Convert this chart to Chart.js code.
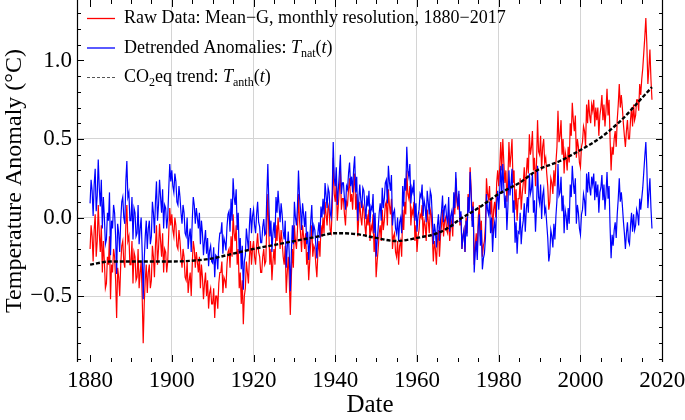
<!DOCTYPE html>
<html>
<head>
<meta charset="utf-8">
<script src="https://cdn.jsdelivr.net/npm/chart.js@4.4.1/dist/chart.umd.min.js"></script>
<style>
  html, body { margin: 0; padding: 0; background: #fff; }
  #wrap { width: 685px; height: 420px; }
</style>
</head>
<body>
<div id="wrap"><canvas id="chart"></canvas></div>
<script>
// quarterly readings, 1880.00 ... 2017.50
const firstYear = 1880
const stepYears = 0.25

// Raw Data: Mean-G (red), one row per decade
const rawData = [
	-0.20, -0.05, -0.12, -0.28, -0.08, 0.02, -0.25, -0.15, 0.08, -0.10, -0.22, -0.05, -0.35, -0.15, -0.28, -0.45, -0.42, -0.25, -0.30, -0.12, -0.52, -0.30, -0.35, -0.20, -0.25, -0.40, -0.64, -0.32, -0.38, -0.50, -0.30, -0.18, -0.15, -0.28, -0.32, -0.05, 0.08, -0.15, -0.12, -0.30,
	-0.30, -0.15, -0.42, -0.22, -0.25, -0.40, -0.38, -0.20, -0.45, -0.35, -0.28, -0.50, -0.80, -0.55, -0.40, -0.30, -0.48, -0.35, -0.30, -0.45, -0.40, -0.18, -0.25, -0.38, -0.18, -0.05, -0.30, -0.20, -0.04, -0.15, -0.25, -0.10, -0.35, -0.20, -0.22, -0.35, -0.28, -0.10, 0.06, -0.05,
	0.02, -0.08, -0.12, 0.00, -0.05, -0.18, -0.20, -0.08, -0.15, -0.25, -0.32, -0.20, -0.25, -0.38, -0.40, -0.28, -0.48, -0.40, -0.35, -0.50, -0.30, -0.15, -0.20, -0.32, -0.22, -0.28, -0.35, -0.25, -0.45, -0.30, -0.38, -0.52, -0.42, -0.35, -0.50, -0.40, -0.58, -0.48, -0.45, -0.55,
	-0.55, -0.45, -0.64, -0.50, -0.50, -0.58, -0.42, -0.35, -0.35, -0.28, -0.48, -0.38, -0.40, -0.45, -0.30, -0.22, -0.20, -0.32, -0.12, -0.25, 0.02, -0.10, -0.15, -0.05, -0.30, -0.20, -0.45, -0.35, -0.55, -0.40, -0.68, -0.50, -0.45, -0.28, -0.35, -0.42, -0.25, -0.15, -0.30, -0.20,
	-0.15, -0.25, -0.30, -0.18, -0.10, -0.22, -0.25, -0.35, -0.35, -0.25, -0.20, -0.30, -0.28, -0.05, 0.15, -0.10, -0.30, -0.20, -0.40, -0.28, -0.20, -0.30, -0.05, -0.15, 0.00, -0.10, -0.20, -0.08, -0.15, -0.25, -0.30, -0.18, -0.48, -0.35, -0.25, -0.40, -0.62, -0.38, -0.20, -0.32,
	-0.05, -0.15, -0.20, -0.08, 0.15, -0.02, -0.10, -0.22, -0.05, -0.12, -0.20, -0.10, -0.30, -0.22, -0.40, -0.28, -0.15, -0.05, -0.25, -0.18, -0.20, -0.30, -0.38, -0.22, -0.15, -0.25, -0.05, -0.12, 0.00, -0.10, 0.10, 0.02, -0.05, 0.08, 0.05, -0.08, -0.10, 0.05, 0.38, 0.15,
	0.10, 0.22, -0.02, 0.08, 0.18, 0.30, 0.05, 0.12, 0.12, 0.02, -0.05, 0.10, 0.08, 0.18, 0.25, 0.10, 0.15, 0.05, 0.20, 0.28, 0.05, 0.15, -0.12, 0.00, 0.10, 0.00, -0.05, 0.08, 0.05, -0.05, -0.12, 0.02, -0.05, 0.05, -0.15, -0.05, -0.08, 0.02, -0.22, -0.10,
	-0.38, -0.28, -0.20, -0.10, -0.05, -0.15, 0.05, -0.08, -0.02, 0.08, 0.10, -0.05, 0.18, 0.08, 0.02, 0.12, -0.20, -0.12, -0.10, -0.22, -0.25, -0.15, -0.30, -0.18, -0.15, -0.25, 0.05, -0.08, 0.10, 0.02, 0.30, 0.15, 0.12, 0.20, -0.05, 0.05, 0.02, 0.10, -0.15, -0.05,
	-0.22, -0.12, -0.08, 0.02, 0.00, 0.08, -0.12, -0.02, -0.05, -0.15, 0.05, -0.02, -0.10, 0.05, 0.02, -0.12, -0.28, -0.15, -0.20, -0.30, -0.15, -0.08, -0.25, -0.12, -0.05, 0.05, -0.12, -0.02, 0.00, -0.08, -0.10, 0.05, -0.15, -0.05, -0.02, -0.12, 0.12, 0.02, 0.25, 0.10,
	0.05, 0.15, -0.05, 0.02, -0.20, -0.12, -0.08, -0.22, 0.00, -0.10, 0.15, 0.05, 0.32, 0.18, -0.02, 0.10, -0.30, -0.18, -0.10, -0.22, 0.00, 0.08, -0.12, -0.02, -0.25, -0.18, -0.15, -0.05, 0.25, 0.15, 0.12, 0.20, 0.02, 0.12, -0.10, 0.05, 0.10, 0.00, 0.22, 0.30,
	0.20, 0.32, 0.48, 0.30, 0.50, 0.35, 0.22, 0.30, 0.10, 0.25, 0.48, 0.32, 0.40, 0.50, 0.22, 0.30, 0.05, 0.18, -0.02, 0.12, 0.12, 0.25, 0.05, 0.15, 0.22, 0.32, 0.15, 0.28, 0.38, 0.28, 0.53, 0.40, 0.45, 0.55, 0.30, 0.38, 0.20, 0.35, 0.62, 0.42,
	0.40, 0.52, 0.30, 0.45, 0.50, 0.35, 0.38, 0.28, 0.20, 0.05, 0.10, 0.25, 0.22, 0.15, 0.30, 0.20, 0.35, 0.45, 0.68, 0.48, 0.52, 0.62, 0.40, 0.50, 0.28, 0.42, 0.38, 0.30, 0.45, 0.35, 0.60, 0.52, 0.73, 0.62, 0.55, 0.65, 0.38, 0.50, 0.45, 0.35,
	0.32, 0.45, 0.48, 0.58, 0.55, 0.45, 0.72, 0.60, 0.75, 0.65, 0.60, 0.72, 0.68, 0.75, 0.58, 0.70, 0.62, 0.70, 0.52, 0.65, 0.70, 0.78, 0.62, 0.72, 0.58, 0.68, 0.82, 0.65, 0.75, 0.50, 0.30, 0.45, 0.40, 0.50, 0.55, 0.45, 0.62, 0.72, 0.85, 0.70,
	0.78, 0.70, 0.60, 0.52, 0.45, 0.55, 0.62, 0.50, 0.50, 0.62, 0.70, 0.58, 0.72, 0.62, 0.65, 0.75, 0.75, 0.68, 0.85, 0.78, 0.88, 0.95, 1.05, 1.15, 1.27, 1.10, 0.85, 0.95, 1.07, 0.88, 0.75,
]

// Detrended anomalies T_nat(t) (blue), same dates
const natData = [
	0.09, 0.24, 0.17, 0.01, 0.21, 0.31, 0.04, 0.14, 0.37, 0.19, 0.07, 0.24, -0.07, 0.13, 0.00, -0.17, -0.14, 0.03, -0.02, 0.16, -0.24, -0.02, -0.07, 0.08, 0.03, -0.12, -0.36, -0.04, -0.10, -0.22, -0.02, 0.10, 0.13, 0.00, -0.04, 0.23, 0.36, 0.13, 0.16, -0.02,
	-0.02, 0.13, -0.14, 0.06, 0.03, -0.12, -0.10, 0.08, -0.17, -0.07, 0.00, -0.22, -0.52, -0.27, -0.12, -0.02, -0.20, -0.07, -0.02, -0.17, -0.12, 0.10, 0.03, -0.10, 0.10, 0.23, -0.02, 0.08, 0.24, 0.13, 0.03, 0.18, -0.07, 0.08, 0.06, -0.07, 0.00, 0.18, 0.34, 0.23,
	0.30, 0.20, 0.16, 0.28, 0.23, 0.10, 0.08, 0.20, 0.13, 0.03, -0.04, 0.08, 0.03, -0.10, -0.12, 0.00, -0.20, -0.12, -0.07, -0.22, -0.02, 0.13, 0.08, -0.04, 0.06, 0.00, -0.07, 0.03, -0.17, -0.02, -0.10, -0.24, -0.15, -0.08, -0.23, -0.13, -0.31, -0.21, -0.18, -0.28,
	-0.29, -0.19, -0.38, -0.24, -0.25, -0.33, -0.17, -0.10, -0.10, -0.03, -0.23, -0.13, -0.16, -0.21, -0.06, 0.02, 0.04, -0.09, 0.12, -0.02, 0.25, 0.13, 0.08, 0.18, -0.08, 0.03, -0.23, -0.13, -0.33, -0.18, -0.46, -0.28, -0.24, -0.07, -0.14, -0.21, -0.05, 0.06, -0.10, 0.01,
	0.05, -0.05, -0.10, 0.02, 0.10, -0.03, -0.06, -0.16, -0.16, -0.06, -0.01, -0.11, -0.10, 0.14, 0.34, 0.09, -0.12, -0.02, -0.22, -0.10, -0.03, -0.13, 0.13, 0.03, 0.17, 0.07, -0.03, 0.09, 0.02, -0.09, -0.14, -0.02, -0.32, -0.19, -0.09, -0.24, -0.47, -0.23, -0.05, -0.17,
	0.10, 0.00, -0.05, 0.07, 0.30, 0.13, 0.05, -0.08, 0.09, 0.02, -0.06, 0.04, -0.17, -0.09, -0.27, -0.15, -0.02, 0.08, -0.12, -0.05, -0.08, -0.18, -0.26, -0.10, -0.03, -0.13, 0.07, 0.00, 0.12, 0.02, 0.22, 0.14, 0.06, 0.19, 0.16, 0.03, 0.00, 0.15, 0.48, 0.25,
	0.20, 0.32, 0.08, 0.18, 0.28, 0.40, 0.15, 0.22, 0.22, 0.12, 0.05, 0.20, 0.18, 0.28, 0.35, 0.20, 0.26, 0.16, 0.31, 0.39, 0.16, 0.26, -0.02, 0.11, 0.21, 0.11, 0.06, 0.19, 0.17, 0.07, -0.01, 0.14, 0.07, 0.17, -0.03, 0.07, 0.05, 0.15, -0.10, 0.03,
	-0.25, -0.15, -0.07, 0.03, 0.09, -0.02, 0.19, 0.06, 0.12, 0.22, 0.24, 0.09, 0.33, 0.23, 0.17, 0.27, -0.05, 0.03, 0.05, -0.07, -0.10, 0.00, -0.15, -0.03, 0.00, -0.10, 0.20, 0.07, 0.25, 0.17, 0.45, 0.30, 0.26, 0.34, 0.09, 0.19, 0.16, 0.24, -0.02, 0.09,
	-0.09, 0.01, 0.05, 0.15, 0.13, 0.21, 0.01, 0.11, 0.07, -0.03, 0.17, 0.10, 0.02, 0.17, 0.14, 0.00, -0.17, -0.04, -0.09, -0.19, -0.05, 0.02, -0.15, -0.02, 0.04, 0.14, -0.03, 0.07, 0.08, 0.00, -0.03, 0.13, -0.09, 0.01, 0.04, -0.06, 0.16, 0.06, 0.29, 0.14,
	0.07, 0.17, -0.03, 0.04, -0.20, -0.12, -0.08, -0.22, -0.02, -0.12, 0.13, 0.03, 0.29, 0.15, -0.06, 0.07, -0.35, -0.22, -0.15, -0.27, -0.06, 0.02, -0.18, -0.08, -0.33, -0.26, -0.23, -0.13, 0.15, 0.05, 0.02, 0.10, -0.10, 0.00, -0.22, -0.07, -0.03, -0.13, 0.09, 0.17,
	0.05, 0.17, 0.33, 0.15, 0.34, 0.19, 0.06, 0.14, -0.08, 0.07, 0.30, 0.14, 0.21, 0.31, 0.03, 0.11, -0.16, -0.03, -0.23, -0.09, -0.10, 0.03, -0.17, -0.07, -0.02, 0.09, -0.09, 0.05, 0.13, 0.03, 0.28, 0.15, 0.18, 0.28, 0.03, 0.11, -0.09, 0.06, 0.33, 0.13,
	0.09, 0.21, -0.01, 0.14, 0.18, 0.03, 0.06, -0.04, -0.13, -0.28, -0.23, -0.08, -0.12, -0.19, -0.04, -0.14, 0.01, 0.11, 0.34, 0.14, 0.16, 0.26, 0.04, 0.14, -0.10, 0.05, 0.01, -0.08, 0.06, -0.04, 0.21, 0.13, 0.33, 0.22, 0.15, 0.25, -0.04, 0.08, 0.03, -0.07,
	-0.11, 0.02, 0.05, 0.15, 0.11, 0.01, 0.28, 0.16, 0.29, 0.19, 0.14, 0.26, 0.21, 0.28, 0.11, 0.23, 0.13, 0.21, 0.03, 0.16, 0.19, 0.27, 0.11, 0.21, 0.05, 0.15, 0.29, 0.12, 0.20, -0.06, -0.26, -0.11, -0.18, -0.08, -0.03, -0.13, 0.02, 0.12, 0.25, 0.10,
	0.16, 0.08, -0.02, -0.10, -0.20, -0.10, -0.03, -0.15, -0.17, -0.05, 0.03, -0.09, 0.02, -0.08, -0.05, 0.05, 0.02, -0.05, 0.12, 0.05, 0.12, 0.19, 0.29, 0.39, 0.48, 0.31, 0.06, 0.16, 0.25, 0.06, -0.07,
]

// CO2eq trend T_anth(t) (black dashed)
const trendYears = [1880, 1885, 1890, 1895, 1900, 1905, 1910, 1915, 1920, 1925, 1930, 1935, 1940, 1945, 1950, 1955, 1960, 1965, 1968, 1970, 1975, 1980, 1985, 1990, 1992, 1995, 2000, 2005, 2010, 2015, 2017.5]
const trendData = [-0.30, -0.28, -0.28, -0.28, -0.28, -0.275, -0.26, -0.23, -0.20, -0.175, -0.15, -0.125, -0.10, -0.105, -0.13, -0.15, -0.13, -0.10, -0.06, -0.02, 0.06, 0.15, 0.22, 0.31, 0.33, 0.36, 0.43, 0.51, 0.62, 0.76, 0.83]

const xTicks = [1880, 1900, 1920, 1940, 1960, 1980, 2000, 2020]
const yTicks = [-0.5, 0.0, 0.5, 1.0]

const serif = '"Liberation Serif", "Times New Roman", serif'

const dates = rawData.map((v, i) => firstYear + i * stepYears)
const rawPts = rawData.map((v, i) => ({ x: dates[i], y: v }))
const natPts = natData.map((v, i) => ({ x: dates[i], y: v }))
const trendPts = trendData.map((v, i) => ({ x: trendYears[i], y: v }))

function richText(ctx, x, y, parts) {
	for (const p of parts) {
		const size = p.sub ? 12 : 18
		ctx.font = (p.it ? "italic " : "") + size + "px " + serif
		ctx.fillText(p.t, x, y + (p.sub ? 4 : 0))
		x += ctx.measureText(p.t).width
	}
}

// Mathematica-like frame: side lines + inward ticks, and the legend
const framePlugin = {
	id: "frame",
	afterDraw(chart) {
		const { ctx, chartArea: a } = chart
		const xs = chart.scales.x
		const ys = chart.scales.y
		ctx.save()
		ctx.strokeStyle = "#000"
		ctx.lineWidth = 1.2
		ctx.beginPath()
		ctx.moveTo(a.left + 0.5, a.top)
		ctx.lineTo(a.left + 0.5, a.bottom)
		ctx.moveTo(a.right - 0.5, a.top)
		ctx.lineTo(a.right - 0.5, a.bottom)
		ctx.stroke()

		ctx.lineWidth = 1
		ctx.beginPath()
		for (let yr = 1880; yr <= 2020; yr += 5) {
			const px = Math.round(xs.getPixelForValue(yr)) + 0.5
			const len = yr % 20 === 0 ? 7 : 4
			ctx.moveTo(px, a.bottom)
			ctx.lineTo(px, a.bottom - len)
			ctx.moveTo(px, a.top)
			ctx.lineTo(px, a.top + len)
		}
		for (let k = -9; k <= 13; k++) {
			const py = Math.round(ys.getPixelForValue(k / 10)) + 0.5
			const len = k % 5 === 0 ? 7 : 4
			ctx.moveTo(a.left, py)
			ctx.lineTo(a.left + len, py)
			ctx.moveTo(a.right, py)
			ctx.lineTo(a.right - len, py)
		}
		ctx.stroke()

		// legend
		const x0 = 87, x1 = 115, tx = 124
		const rows = [18.5, 48, 77.5]
		ctx.lineWidth = 1.3
		ctx.strokeStyle = "#ff0000"
		ctx.beginPath(); ctx.moveTo(x0, rows[0]); ctx.lineTo(x1, rows[0]); ctx.stroke()
		ctx.strokeStyle = "#0000ff"
		ctx.beginPath(); ctx.moveTo(x0, rows[1]); ctx.lineTo(x1, rows[1]); ctx.stroke()
		ctx.strokeStyle = "#555"
		ctx.lineWidth = 1
		ctx.setLineDash([3, 2])
		ctx.beginPath(); ctx.moveTo(x0, rows[2]); ctx.lineTo(x1, rows[2]); ctx.stroke()
		ctx.setLineDash([])

		ctx.fillStyle = "#000"
		ctx.textBaseline = "alphabetic"
		ctx.textAlign = "left"
		richText(ctx, tx, rows[0] + 4.5, [{ t: "Raw Data: Mean\u2212G, monthly resolution, 1880\u22122017" }])
		richText(ctx, tx, rows[1] + 4.5, [
			{ t: "Detrended Anomalies: " }, { t: "T", it: true }, { t: "nat", sub: true },
			{ t: "(" }, { t: "t", it: true }, { t: ")" },
		])
		richText(ctx, tx, rows[2] + 4.5, [
			{ t: "CO" }, { t: "2", sub: true }, { t: "eq trend: " }, { t: "T", it: true },
			{ t: "anth", sub: true }, { t: "(" }, { t: "t", it: true }, { t: ")" },
		])
		ctx.restore()
	},
}

const config = {
	type: "line",
	data: {
		datasets: [
			{
				label: "Raw Data",
				data: rawPts,
				borderColor: "#ff0000",
				borderWidth: 1.2,
				pointRadius: 0,
				order: 3,
			},
			{
				label: "Detrended Anomalies",
				data: natPts,
				borderColor: "#0000ff",
				borderWidth: 1.2,
				pointRadius: 0,
				order: 2,
			},
			{
				label: "CO2eq trend",
				data: trendPts,
				borderColor: "#000000",
				borderWidth: 2.4,
				borderDash: [4, 2],
				cubicInterpolationMode: "monotone",
				pointRadius: 0,
				order: 1,
			},
		],
	},
	options: {
		responsive: false,
		animation: false,
		layout: { padding: { left: 0, right: 22, top: 0, bottom: 0 } },
		plugins: {
			legend: { display: false },
			tooltip: { enabled: false },
		},
		scales: {
			x: {
				type: "linear",
				min: 1876.8,
				max: 2020.2,
				afterBuildTicks: (s) => { s.ticks = xTicks.map((v) => ({ value: v })) },
				afterFit: (s) => { s.height = 58; s.paddingLeft = 0; s.paddingRight = 0 },
				border: { display: false },
				grid: {
					drawTicks: false,
					color: (c) => (c.tick && (c.tick.value === 1880 || c.tick.value === 2020) ? "rgba(0,0,0,0)" : "#d4d4d4"),
					lineWidth: 1,
				},
				ticks: {
					padding: 5,
					color: "#000",
					font: { family: serif, size: 23 },
					callback: (v) => String(v),
				},
				title: {
					display: true,
					text: "Date",
					color: "#000",
					font: { family: serif, size: 25 },
					padding: 0,
				},
			},
			y: {
				min: -0.92,
				max: 1.385,
				afterBuildTicks: (s) => { s.ticks = yTicks.map((v) => ({ value: v })) },
				afterFit: (s) => { s.width = 77; s.paddingTop = 0; s.paddingBottom = 0 },
				border: { display: false },
				grid: {
					drawTicks: false,
					color: (c) => (c.tick && c.tick.value === 1.0 ? "rgba(0,0,0,0)" : "#d4d4d4"),
					lineWidth: 1,
				},
				ticks: {
					padding: 5,
					color: "#000",
					font: { family: serif, size: 23 },
					callback: (v) => (v < 0 ? "\u2212" + Math.abs(v).toFixed(1) : v.toFixed(1)),
				},
				title: {
					display: true,
					text: "Temperature Anomaly (\u00B0C)",
					color: "#000",
					font: { family: serif, size: 24 },
					padding: 0,
				},
			},
		},
	},
	plugins: [framePlugin],
}

const canvas = document.getElementById("chart")
canvas.width = 685
canvas.height = 420
canvas.style.width = "685px"
canvas.style.height = "420px"
new Chart(canvas, config)
</script>
</body>
</html>
